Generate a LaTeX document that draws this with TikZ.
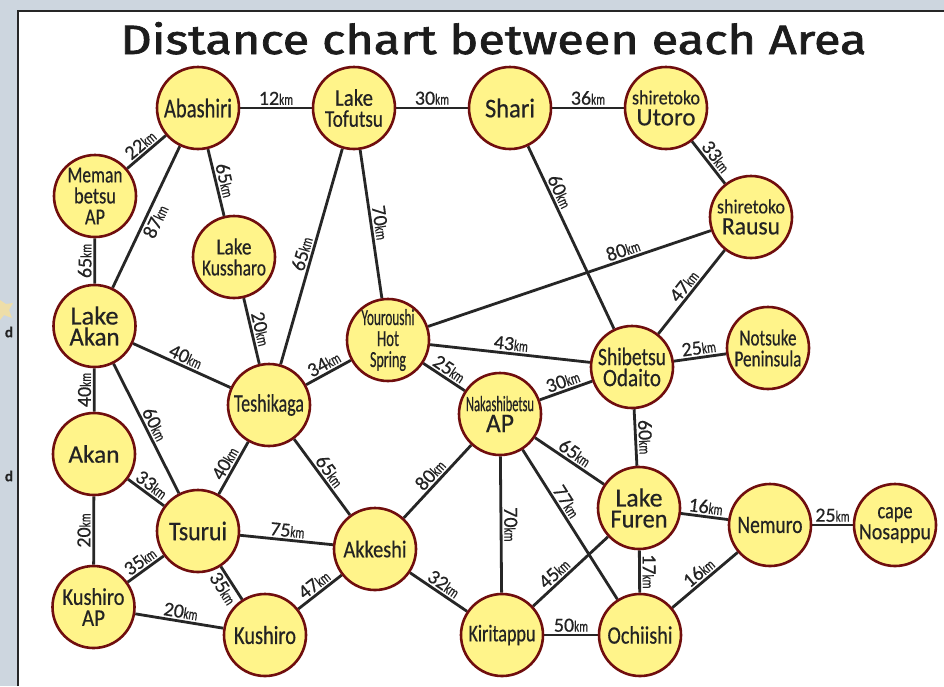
\documentclass[tikz,border=0pt]{standalone}
\usepackage{fontspec}
\usepackage{graphicx}
\setmainfont[FakeBold=0.5]{Carlito}
\newfontfamily\titlefont[FakeBold=1.6]{Fira Sans}
\definecolor{nodefill}{RGB}{255,244,138}
\definecolor{nodeborder}{RGB}{112,14,14}
\definecolor{edgecol}{RGB}{38,38,38}
\definecolor{txt}{RGB}{35,35,35}
\definecolor{panelbg}{RGB}{205,214,223}
\definecolor{starcol}{RGB}{238,222,168}
\pgfdeclarelayer{panel}
\pgfdeclarelayer{edges}
\pgfsetlayers{panel,edges,main}
\newcommand{\Ln}[3]{\resizebox{#1pt}{\height}{\fontsize{#2}{#2}\selectfont #3}}
\newcommand{\dst}[1]{#1\resizebox{14pt}{\height}{\fontsize{16}{16}\selectfont km}}
\begin{document}
\begin{tikzpicture}[x=1pt,y=-1pt,
  place/.style={circle, draw=nodeborder, line width=2.6pt, fill=nodefill, minimum size=82pt, inner sep=0pt, align=center, text=txt, font=\fontsize{24}{21}\selectfont},
  edge/.style={draw=edgecol, line width=2.8pt},
  lab/.style={sloped, text=txt, inner sep=1.8pt, font=\fontsize{20}{20}\selectfont}]
\useasboundingbox (0,0) rectangle (944,686);
\begin{pgfonlayer}{panel}
\fill[panelbg] (0,0) rectangle (944,686);
\fill[white] (18,11) rectangle (944,686);
\draw[edgecol, line width=2.6pt] (18,686) -- (18,11) -- (944,11);
\fill[starcol] (0,300) -- (6,304) -- (13,303) -- (9,310) -- (12,318) -- (4,315) -- (0,320) -- cycle;
\end{pgfonlayer}
\node[text=txt, font=\fontsize{15}{15}\selectfont\bfseries, inner sep=0pt] (d1) at (9,332) {d};
\node[text=txt, font=\fontsize{15}{15}\selectfont\bfseries, inner sep=0pt] (d2) at (9,476) {d};
\node[anchor=base, inner sep=0pt, text={rgb,255:red,28;green,28;blue,28}] (title) at (493.5,54) {\resizebox{746pt}{\height}{\titlefont\fontsize{41}{41}\selectfont Distance chart between each Area}};

\node[place] (AB) at (198,108) {\Ln{68}{27}{Abashiri}};
\node[place] (TO) at (354,108) {\Ln{38}{24}{Lake}\\\Ln{58}{24}{Tofutsu}};
\node[place] (SH) at (510,108) {\Ln{50}{27}{Shari}};
\node[place] (UT) at (666,108) {\Ln{68}{20}{shiretoko}\\\Ln{59}{25}{Utoro}};
\node[place] (RA) at (751,217) {\Ln{68}{20}{shiretoko}\\\Ln{58}{25}{Rausu}};
\node[place] (ME) at (95,196) {\Ln{55}{23}{Meman}\\\Ln{42}{23}{betsu}\\\Ln{20}{23}{AP}};
\node[place] (KU) at (234,257) {\Ln{35}{23}{Lake}\\\Ln{64}{23}{Kussharo}};
\node[place] (LA) at (94.5,326) {\Ln{48}{26}{Lake}\\\Ln{50}{26}{Akan}};
\node[place] (YO) at (388,340) {\Ln{53}{23}{Youroushi}\\\Ln{22}{23}{Hot}\\\Ln{36}{23}{Spring}};
\node[place] (NO) at (768,348) {\Ln{57}{23}{Notsuke}\\\Ln{67}{23}{Peninsula}};
\node[place] (SB) at (632,367) {\Ln{68}{25}{Shibetsu}\\\Ln{58}{25}{Odaito}};
\node[place] (TE) at (269,405) {\Ln{70}{25}{Teshikaga}};
\node[place] (NA) at (500,414) {\Ln{68}{22}{Nakashibetsu}\\\Ln{28}{27}{AP}};
\node[place] (AK) at (94,454) {\Ln{51}{25}{Akan}};
\node[place] (FU) at (639,508) {\Ln{47}{26}{Lake}\\\Ln{57}{26}{Furen}};
\node[place] (NE) at (770,525) {\Ln{65}{25}{Nemuro}};
\node[place] (NS) at (895,525) {\Ln{35}{23}{cape}\\\Ln{72}{23}{Nosappu}};
\node[place] (TS) at (198,531) {\Ln{58}{27}{Tsurui}};
\node[place] (AS) at (375,549) {\Ln{63}{24}{Akkeshi}};
\node[place] (KA) at (93.5,607) {\Ln{62}{24}{Kushiro}\\\Ln{23}{24}{AP}};
\node[place] (KS) at (265,635) {\Ln{62}{26}{Kushiro}};
\node[place] (KI) at (502,635) {\Ln{67}{24}{Kiritappu}};
\node[place] (OC) at (640,635) {\Ln{65}{25}{Ochiishi}};

\begin{pgfonlayer}{edges}
\draw[edge] (AB) -- node[lab,above]{\dst{12}} (TO);
\draw[edge] (TO) -- node[lab,above]{\dst{30}} (SH);
\draw[edge] (SH) -- node[lab,above]{\dst{36}} (UT);
\draw[edge] (UT) -- node[lab,above]{\dst{33}} (RA);
\draw[edge] (ME) -- node[lab,above]{\dst{22}} (AB);
\draw[edge] (LA) -- node[lab,below]{\dst{87}} (AB);
\draw[edge] (AB) -- node[lab,above]{\dst{65}} (KU);
\draw[edge] (LA) -- node[lab,above]{\dst{65}} (ME);
\draw[edge] (TE) -- node[lab,above]{\dst{65}} (TO);
\draw[edge] (TO) -- node[lab,above]{\dst{70}} (YO);
\draw[edge] (SH) -- node[lab,above,pos=0.27]{\dst{60}} (SB);
\draw[edge] (YO) -- node[lab,above,pos=0.7]{\dst{80}} (RA);
\draw[edge] (SB) -- node[lab,above]{\dst{47}} (RA);
\draw[edge] (KU) -- node[lab,above]{\dst{20}} (TE);
\draw[edge] (LA) -- node[lab,above]{\dst{40}} (TE);
\draw[edge] (AK) -- node[lab,above]{\dst{40}} (LA);
\draw[edge] (LA) -- node[lab,above]{\dst{60}} (TS);
\draw[edge] (TE) -- node[lab,above]{\dst{34}} (YO);
\draw[edge] (YO) -- node[lab,above]{\dst{43}} (SB);
\draw[edge] (YO) -- node[lab,above]{\dst{25}} (NA);
\draw[edge] (SB) -- node[lab,above]{\dst{25}} (NO);
\draw[edge] (NA) -- node[lab,above]{\dst{30}} (SB);
\draw[edge] (SB) -- node[lab,above]{\dst{60}} (FU);
\draw[edge] (TS) -- node[lab,above]{\dst{40}} (TE);
\draw[edge] (TE) -- node[lab,above]{\dst{65}} (AS);
\draw[edge] (AK) -- node[lab,above]{\dst{33}} (TS);
\draw[edge] (KA) -- node[lab,above]{\dst{20}} (AK);
\draw[edge] (TS) -- node[lab,above]{\dst{75}} (AS);
\draw[edge] (KA) -- node[lab,above]{\dst{35}} (TS);
\draw[edge] (TS) -- node[lab,below]{\dst{35}} (KS);
\draw[edge] (KA) -- node[lab,above]{\dst{20}} (KS);
\draw[edge] (KS) -- node[lab,above]{\dst{47}} (AS);
\draw[edge] (AS) -- node[lab,above]{\dst{80}} (NA);
\draw[edge] (AS) -- node[lab,above]{\dst{32}} (KI);
\draw[edge] (NA) -- node[lab,above]{\dst{70}} (KI);
\draw[edge] (NA) -- node[lab,above,pos=0.38]{\dst{77}} (OC);
\draw[edge] (NA) -- node[lab,above]{\dst{65}} (FU);
\draw[edge] (KI) -- node[lab,above,pos=0.37]{\dst{45}} (FU);
\draw[edge] (KI) -- node[lab,above]{\dst{50}} (OC);
\draw[edge] (FU) -- node[lab,above]{\dst{17}} (OC);
\draw[edge] (FU) -- node[lab,above]{\dst{16}} (NE);
\draw[edge] (OC) -- node[lab,above]{\dst{16}} (NE);
\draw[edge] (NE) -- node[lab,above]{\dst{25}} (NS);
\end{pgfonlayer}
\end{tikzpicture}
\end{document}
